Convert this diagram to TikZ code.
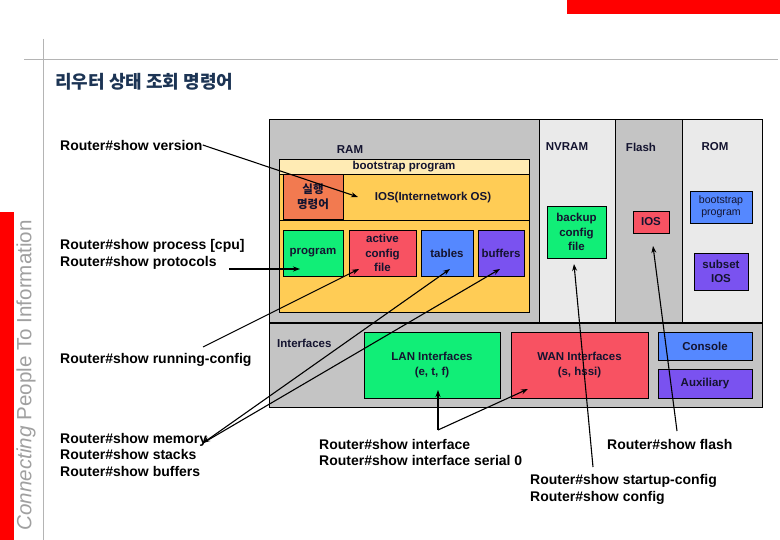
\documentclass[tikz,border=0pt]{standalone}
\usepackage{fontspec}
\setmainfont{Liberation Sans}
\newfontfamily\kofont{Noto Sans CJK KR}
\usetikzlibrary{arrows.meta}
\definecolor{slidered}{HTML}{FF0000}
\definecolor{rulegray}{HTML}{B4B4B4}
\definecolor{brandgray}{HTML}{A0A0A0}
\definecolor{titlenavy}{HTML}{1C3454}
\definecolor{ramgray}{HTML}{C4C4C4}
\definecolor{litegray}{HTML}{EAEAEA}
\definecolor{bootcream}{HTML}{FFEBB4}
\definecolor{iosyellow}{HTML}{FFCC55}
\definecolor{execorange}{HTML}{F27A50}
\definecolor{boxgreen}{HTML}{11EE77}
\definecolor{boxred}{HTML}{F85262}
\definecolor{boxblue}{HTML}{5588FF}
\definecolor{boxpurple}{HTML}{7A52F0}
\definecolor{inkdark}{HTML}{141430}
\tikzset{
  membox/.style={draw=black, line width=0.8pt, inner sep=0pt, align=center,
    text=inkdark, font=\fontsize{11.5}{14.5}\selectfont\bfseries},
  partlabel/.style={inner sep=0pt, text=inkdark, font=\fontsize{11.5}{14}\selectfont\bfseries},
  cmdlabel/.style={anchor=west, align=left, inner sep=0pt,
    font=\fontsize{14}{16.5}\selectfont\bfseries},
  cmdarrow/.style={->, line width=1.1pt},
}
\begin{document}
\begin{tikzpicture}[x=1pt,y=-1pt,>={Stealth[length=7pt,width=5pt]}]
    \useasboundingbox (0,0) rectangle (780,540);
    \fill[white] (0,0) rectangle (780,540);
    % slide frame
    \fill[slidered] (567,0) rectangle (780,14);
    \fill[slidered] (0,212) rectangle (14,540);
    \draw[rulegray,line width=1pt] (43,39) -- (43,540);
    \draw[rulegray,line width=1pt] (24,60) -- (778,60);
    \node[rotate=90,anchor=east,inner sep=0pt,text=brandgray,
      font=\fontsize{20.6}{22}\selectfont] (brand) at (26,220)
      {{\itshape Connecting} People To Information};
    \node[anchor=west,inner sep=0pt,text=titlenavy,
      font=\kofont\fontsize{18}{20}\selectfont\bfseries] (title) at (55,82)
      {리우터 상태 조회 명령어};
    % memory areas
    \filldraw[fill=ramgray,line width=1pt] (269,120) rectangle (539,323);
    \filldraw[fill=litegray,line width=1pt] (539,120) rectangle (615,323);
    \filldraw[fill=ramgray,line width=1pt] (615,120) rectangle (682,323);
    \filldraw[fill=litegray,line width=1pt] (682,120) rectangle (762,323);
    \filldraw[fill=ramgray,line width=1pt] (269,323) rectangle (762,407);
    \draw[line width=1.8pt] (269,323) -- (762,323);
    \node[partlabel] (ram) at (350,150) {RAM};
    \node[partlabel] (nvram) at (567,147) {NVRAM};
    \node[partlabel] (flash) at (641,147) {Flash};
    \node[partlabel] (rom) at (715,147) {ROM};
    \node[partlabel,anchor=west] (ifaces) at (277,343) {Interfaces};
    % RAM contents
    \filldraw[fill=iosyellow,line width=0.8pt] (279,174) rectangle (529,312);
    \draw[line width=0.8pt] (279,220) -- (529,220);
    \node[membox,fill=bootcream,minimum width=250pt,minimum height=15pt] (bootram)
      at (404,166.5) {bootstrap program};
    \node[membox,fill=execorange,minimum width=60pt,minimum height=45pt,
      font=\kofont\fontsize{11.5}{15}\selectfont\bfseries] (exec) at (313,196.5)
      {실행\\명령어};
    \node[partlabel] (iosram) at (433,198) {IOS(Internetwork OS)};
    \node[membox,fill=boxgreen,minimum width=60pt,minimum height=46pt] (program)
      at (313,253) {program};
    \node[membox,fill=boxred,minimum width=67pt,minimum height=46pt] (active)
      at (382.5,253) {active\\config\\file};
    \node[membox,fill=boxblue,minimum width=52pt,minimum height=46pt] (tables)
      at (447,253) {tables};
    \node[membox,fill=boxpurple,minimum width=46pt,minimum height=46pt] (buffers)
      at (501,253) {buffers};
    % NVRAM, Flash, ROM contents
    \node[membox,fill=boxgreen,minimum width=59pt,minimum height=52pt] (backup)
      at (576.5,232) {backup\\config\\file};
    \node[membox,fill=boxred,minimum width=36pt,minimum height=22pt] (iosflash)
      at (651,222) {IOS};
    \node[membox,fill=boxblue,minimum width=62pt,minimum height=32pt,
      font=\fontsize{10.6}{12}\selectfont] (bootrom) at (721,207) {bootstrap\\program};
    \node[membox,fill=boxpurple,minimum width=54pt,minimum height=37pt] (subset)
      at (721,271.5) {subset\\IOS};
    % interfaces
    \node[membox,fill=boxgreen,minimum width=136pt,minimum height=66pt] (lan)
      at (432,365) {LAN Interfaces\\(e, t, f)};
    \node[membox,fill=boxred,minimum width=137pt,minimum height=66pt] (wan)
      at (579.5,365) {WAN Interfaces\\(s, hssi)};
    \node[membox,fill=boxblue,minimum width=94pt,minimum height=28pt] (console)
      at (705,346) {Console};
    \node[membox,fill=boxpurple,minimum width=94pt,minimum height=29pt] (aux)
      at (705,383.5) {Auxiliary};
    % commands
    \node[cmdlabel] (ver) at (60,145) {Router\#show version};
    \node[cmdlabel] (proc) at (60,254.5) {Router\#show process [cpu]\\Router\#show protocols};
    \node[cmdlabel] (run) at (60,360) {Router\#show running-config};
    \node[cmdlabel] (mem) at (60,454.5) {Router\#show memory\\Router\#show stacks\\Router\#show buffers};
    \node[cmdlabel] (intf) at (319,452.5) {Router\#show interface\\Router\#show interface serial 0};
    \node[cmdlabel] (flashcmd) at (607,444) {Router\#show flash};
    \node[cmdlabel] (startup) at (530,489.5) {Router\#show startup-config\\Router\#show config};
    % arrow ends
    \coordinate (iostip) at (358,197);
    \coordinate (protostart) at (229,269);
    \coordinate (progtip) at (300,269);
    \coordinate (runstart) at (203,347);
    \coordinate (activetip) at (359,269);
    \coordinate (memstart) at (203,443);
    \coordinate (tablestip) at (450,269);
    \coordinate (bufferstip) at (500,269);
    \coordinate (intfstart) at (438,430);
    \coordinate (lantip) at (438,390);
    \coordinate (wantip) at (528,389);
    \coordinate (startupstart) at (593,467);
    \coordinate (backuptip) at (574,264);
    \coordinate (flashstart) at (677,431);
    \coordinate (iosflashtip) at (653,246);
    % connectors
    \draw[cmdarrow] (ver.east) -- (iostip);
    \draw[cmdarrow] (protostart) -- (progtip);
    \draw[cmdarrow] (runstart) -- (activetip);
    \draw[cmdarrow,<->] (memstart) -- (tablestip);
    \draw[cmdarrow] (memstart) -- (bufferstip);
    \draw[cmdarrow] (intfstart) -- (lantip);
    \draw[cmdarrow] (intfstart) -- (wantip);
    \draw[cmdarrow] (startupstart) -- (backuptip);
    \draw[cmdarrow] (flashstart) -- (iosflashtip);
\end{tikzpicture}
\end{document}
